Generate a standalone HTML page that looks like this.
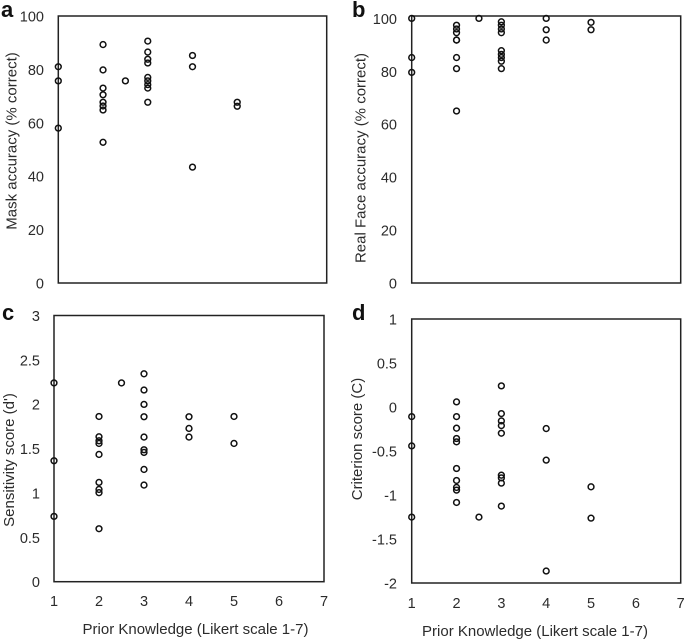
<!DOCTYPE html>
<html lang="en">
<head>
<meta charset="utf-8">
<title>Prior knowledge scatter plots</title>
<style>
html,body{margin:0;padding:0;background:#fff;width:685px;height:641px;overflow:hidden}
svg{display:block;font-family:"Liberation Sans",Arial,sans-serif}
.tick{font-size:14.5px;fill:#2b2b2b}
.title{font-size:15px;fill:#2b2b2b}
.letter{font-size:22px;font-weight:bold;fill:#111}
.box{fill:none;stroke:#222;stroke-width:1.5}
.pt{fill:none;stroke:#111;stroke-width:1.5}
</style>
</head>
<body>
<svg id="chart" width="685" height="641" viewBox="0 0 685 641" xmlns="http://www.w3.org/2000/svg">
  <rect width="685" height="641" fill="#fff"/>
  <text class="letter" x="1" y="17">a</text>
  <text class="letter" x="352" y="17">b</text>
  <text class="letter" x="2" y="320">c</text>
  <text class="letter" x="352" y="320">d</text>
  <text class="title" text-anchor="middle" transform="translate(16.5,141) rotate(-90)">Mask accuracy (% correct)</text>
  <text class="title" text-anchor="middle" transform="translate(365.5,158) rotate(-90)">Real Face accuracy (% correct)</text>
  <text class="title" text-anchor="middle" transform="translate(14,460) rotate(-90)">Sensitivity score (d')</text>
  <text class="title" text-anchor="middle" transform="translate(362,439) rotate(-90)">Criterion score (C)</text>
  <text class="title" text-anchor="middle" x="195.5" y="634">Prior Knowledge (Likert scale 1-7)</text>
  <text class="title" text-anchor="middle" x="535" y="636">Prior Knowledge (Likert scale 1-7)</text>
  <g id="marks"></g>
</svg>
<script>
const xTickLabels = [1, 2, 3, 4, 5, 6, 7];

const yTicksA = ["0", "20", "40", "60", "80", "100"];
const yTicksB = ["0", "20", "40", "60", "80", "100"];
const yTicksC = ["0", "0.5", "1", "1.5", "2", "2.5", "3"];
const yTicksD = ["-2", "-1.5", "-1", "-0.5", "0", "0.5", "1"];

const xA = [1,1,1, 2,2,2,2,2,2,2,2, 2.5, 3,3,3,3,3,3,3,3,3, 4,4,4, 5,5];
const yA = [81,75.7,58, 89.3,79.8,73,70.5,67.7,66.3,64.8,52.7, 75.7, 90.6,86.5,83.8,82.4,77,75.7,74.3,73,67.7, 85.2,81,43.4, 67.7,66.2];

const xB = [1,1,1, 2,2,2,2,2,2,2,2, 2.5, 3,3,3,3,3,3,3,3,3, 4,4,4, 5,5];
const yB = [100,85.2,79.6, 97.4,96,94.6,91.8,91.8,85.2,81,65, 100, 98.7,97.4,96,94.6,87.8,86.4,85.2,83.8,81, 100,95.7,91.8, 98.5,95.7];

const xC = [1,1,1, 2,2,2,2,2,2,2,2,2, 2.5, 3,3,3,3,3,3,3,3,3, 4,4,4, 5,5];
const yC = [2.24,1.363,0.736, 1.862,1.633,1.588,1.558,1.434,1.119,1.04,1.003,0.597, 2.24, 2.343,2.16,1.998,1.859,1.63,1.487,1.457,1.265,1.089, 1.859,1.727,1.63, 1.862,1.558];

const xD = [1,1,1, 2,2,2,2,2,2,2,2,2,2, 2.5, 3,3,3,3,3,3,3,3,3, 4,4,4, 5,5];
const yD = [-0.109,-0.442,-1.251, 0.058,-0.109,-0.241,-0.358,-0.396,-0.699,-0.835,-0.914,-0.945,-1.085, -1.251, 0.24,-0.075,-0.158,-0.211,-0.298,-0.775,-0.805,-0.865,-1.126, -0.245,-0.604,-1.864, -0.907,-1.263];

const NS = "http://www.w3.org/2000/svg";
const root = document.getElementById("marks");

function makeScale(d0, d1, r0, r1) {
  return function (v) { return r0 + (v - d0) * (r1 - r0) / (d1 - d0); };
}

function drawPanel(id, box, yMin, yMax, yTicks, xs, ys, showX, tickRight, xLabelY) {
  const sx = makeScale(1, 7, box.l, box.r);
  const sy = makeScale(yMin, yMax, box.b, box.t);

  const g = document.createElementNS(NS, "g");
  
  
  root.appendChild(g);

  const frame = document.createElementNS(NS, "rect");
  
  
  frame.setAttribute("class", "box");
  frame.setAttribute("x", box.l);
  frame.setAttribute("y", box.t);
  frame.setAttribute("width", box.r - box.l);
  frame.setAttribute("height", box.b - box.t);
  g.appendChild(frame);

  yTicks.forEach(function (label) {
    const t = document.createElementNS(NS, "text");
    
    
    t.setAttribute("class", "tick");
    t.setAttribute("text-anchor", "end");
    t.setAttribute("x", tickRight);
    t.setAttribute("y", sy(parseFloat(label)) + 5.5);
    t.textContent = label;
    g.appendChild(t);
  });

  if (showX) {
    xTickLabels.forEach(function (label) {
      const t = document.createElementNS(NS, "text");
      
      
      t.setAttribute("class", "tick");
      t.setAttribute("text-anchor", "middle");
      t.setAttribute("x", sx(label));
      t.setAttribute("y", xLabelY);
      t.textContent = String(label);
      g.appendChild(t);
    });
  }

  xs.forEach(function (xv, i) {
    const c = document.createElementNS(NS, "circle");
    
    
    c.setAttribute("class", "pt");
    c.setAttribute("cx", sx(xv));
    c.setAttribute("cy", sy(ys[i]));
    c.setAttribute("r", 2.9);
    g.appendChild(c);
  });
}

drawPanel("a", {l: 58.3, r: 326.7, t: 16, b: 283}, 0, 100, yTicksA, xA, yA, false, 44);
drawPanel("b", {l: 411.7, r: 680.7, t: 16, b: 283}, 0, 100.9, yTicksB, xB, yB, false, 397);
drawPanel("c", {l: 54, r: 324, t: 315.5, b: 581.7}, 0, 3, yTicksC, xC, yC, true, 40, 606);
drawPanel("d", {l: 411.7, r: 680.7, t: 319, b: 583}, -2, 1, yTicksD, xD, yD, true, 397, 608);
</script>
</body>
</html>
